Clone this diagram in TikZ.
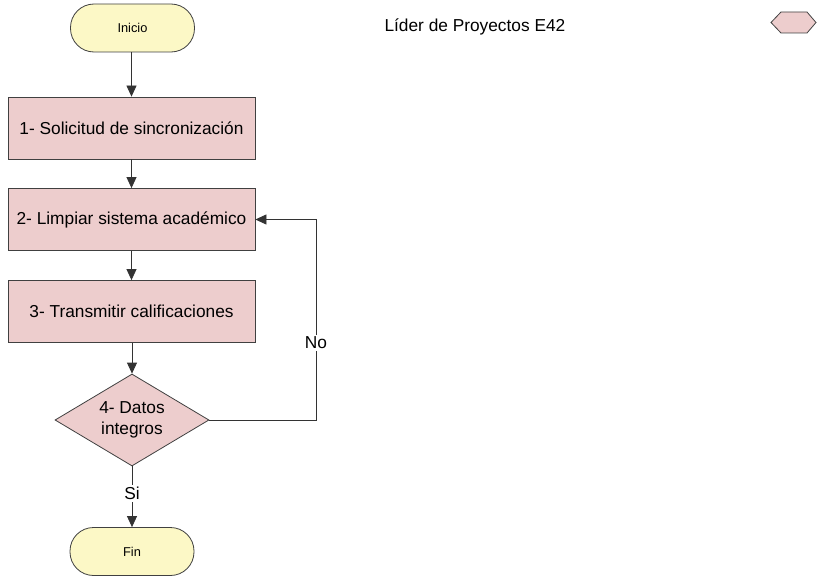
\documentclass[tikz,border=0pt]{standalone}
\usepackage{fontspec}
\setmainfont{Liberation Sans}
\usetikzlibrary{arrows.meta,shapes.geometric}
\definecolor{procfill}{HTML}{EDCDCD}
\definecolor{termfill}{HTML}{FCF8C6}
\definecolor{edgegray}{HTML}{404040}
\begin{document}
\begin{tikzpicture}[x=1pt,y=-1pt,
  procbox/.style={draw=edgegray,fill=procfill,line width=0.8pt,minimum width=247pt,minimum height=62pt,inner sep=0pt,font=\fontsize{17.3}{20}\selectfont},
  termbox/.style={draw=edgegray,fill=termfill,line width=0.8pt,rounded corners=23.5pt,minimum width=124pt,minimum height=48pt,inner sep=0pt,font=\fontsize{12.8}{15}\selectfont},
  decbox/.style={draw=edgegray,fill=procfill,line width=0.8pt,diamond,aspect=1.674,minimum width=154pt,minimum height=92pt,inner sep=0pt,align=center,font=\fontsize{17.3}{21}\selectfont},
  flow/.style={draw=black!80,line width=0.8pt,-{Triangle[length=11pt,width=10pt]}},
  lbl/.style={fill=white,inner sep=2pt,font=\fontsize{17.3}{20}\selectfont}]
\useasboundingbox (0,0) rectangle (820,578);

% flow steps
\node[termbox] (ini) at (132.5,28) {Inicio};
\node[procbox] (s1) at (131.5,128) {1- Solicitud de sincronización};
\node[procbox] (s2) at (131.5,219.5) {2- Limpiar sistema académico};
\node[procbox] (s3) at (131.5,311.5) {3- Transmitir calificaciones};
\node[decbox] (dec) at (132,420) {4- Datos\\integros};
\node[termbox] (fin) at (132,551.5) {Fin};

% connectors
\draw[flow] (ini.south -| s1.north) -- (s1.north);
\draw[flow] (s1) -- (s2);
\draw[flow] (s2) -- (s3);
\draw[flow] (s3.south -| dec.north) -- (dec.north);
\draw[flow] (dec.south) -- node[lbl,pos=0.45] (si) {Si} (fin.north -| dec.south);
\coordinate (loopa) at (316,420);
\coordinate (loopb) at (316,219.5);
\draw[flow] (dec.east) -- (loopa) -- node[lbl,pos=0.385] (no) {No} (loopb) -- (s2.east);

% header
\node[font=\fontsize{17.3}{20}\selectfont,anchor=west] (title) at (381,27) {Líder de Proyectos E42};
\draw[edgegray,fill=procfill,line width=0.8pt] (771,22.5) -- (781,12) -- (807,12) -- (816,22.5) -- (807,33) -- (781,33) -- cycle;
\end{tikzpicture}
\end{document}
